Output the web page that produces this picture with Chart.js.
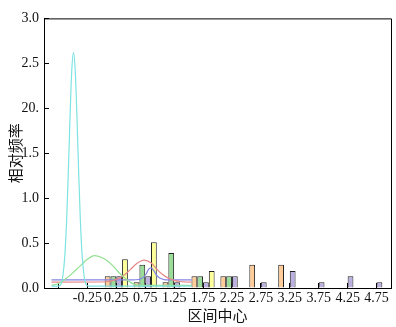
<!DOCTYPE html>
<html>
<head>
<meta charset="utf-8">
<script src="https://cdn.jsdelivr.net/npm/chart.js@4.4.1/dist/chart.umd.min.js"></script>
<style>
  html, body { margin: 0; padding: 0; background: #fff; }
  #wrap { width: 396px; height: 327px; }
</style>
</head>
<body>
<div id="wrap"><canvas id="chart"></canvas></div>
<script>
/* ---------------- datos ---------------- */
// centros de intervalo (ancho 0.5) y etiquetas del eje x
const binCenters = [-0.75, -0.25, 0.25, 0.75, 1.25, 1.75, 2.25, 2.75, 3.25, 3.75, 4.25, 4.75];
const xTickLabels = ["", "-0.25", "0.25", "0.75", "1.25", "1.75", "2.25", "2.75", "3.25", "3.75", "4.25", "4.75"];
const yTickValues = [0, 0.5, 1, 1.5, 2, 2.5, 3];
const yTickLabels = ["0.0", "0.5", "1.0", "1.5", "20.", "2.5", "3.0"];

// frecuencias relativas por serie (null = sin barra)
const orangeVals = [null, null, 0.13, 0.065, 0.065, 0.13, 0.13, 0.26, 0.26, null, null, null];
const greenVals  = [null, null, 0.13, 0.26, 0.39, 0.13, 0.13, null, null, null, null, null];
const purpleVals = [null, null, 0.13, 0.13, 0.065, 0.065, 0.13, 0.065, 0.19, 0.065, 0.13, 0.065];
const yellowVals = [null, null, 0.32, 0.51, null, 0.19, null, null, null, null, null, null];

// curvas
const cyanX = [-0.87, -0.75, -0.70, -0.67, -0.64, -0.61, -0.58, -0.55, -0.52, -0.49, -0.46, -0.43, -0.40, -0.37, -0.34, -0.31, -0.28, -0.25, -0.2, 1.55];
const cyanY = [0.02, 0.02, 0.05, 0.15, 0.36, 0.73, 1.28, 1.90, 2.42, 2.62, 2.42, 1.90, 1.28, 0.73, 0.36, 0.15, 0.05, 0.025, 0.02, 0.02];
const greenX = [-0.87, -0.75, -0.65, -0.55, -0.45, -0.35, -0.25, -0.13, 0.0, 0.1, 0.2, 0.3, 0.4, 0.5, 0.6, 0.75, 1.55];
const greenY = [0.03, 0.05, 0.09, 0.14, 0.2, 0.26, 0.32, 0.36, 0.34, 0.3, 0.24, 0.17, 0.11, 0.06, 0.035, 0.03, 0.03];
const redX = [-0.87, 0.0, 0.1, 0.2, 0.3, 0.4, 0.5, 0.6, 0.73, 0.85, 0.95, 1.05, 1.15, 1.25, 1.35, 1.45, 1.55];
const redY = [0.065, 0.067, 0.072, 0.085, 0.11, 0.15, 0.21, 0.27, 0.31, 0.28, 0.21, 0.15, 0.11, 0.085, 0.072, 0.067, 0.065];
const blueX = [-0.87, 0.55, 0.63, 0.7, 0.76, 0.81, 0.85, 0.9, 0.95, 1.0, 1.08, 1.15, 1.55];
const blueY = [0.09, 0.09, 0.095, 0.11, 0.15, 0.21, 0.225, 0.19, 0.14, 0.11, 0.093, 0.09, 0.09];

const pts = (xs, ys) => xs.map((x, i) => ({ x, y: ys[i] }));
const bars = (vals) => binCenters.map((x, i) => ({ x, y: vals[i] }));

/* ---------------- estilo ---------------- */
Chart.defaults.font.family = "'Liberation Serif', serif";
Chart.defaults.font.size = 14;
Chart.defaults.color = "#111";

const lineDs = (data, color) => ({
  type: "line", data, borderColor: color, borderWidth: 1.2, pointRadius: 0,
  cubicInterpolationMode: "monotone", fill: false, order: 0,
});
const barDs = (data, color) => ({
  type: "bar", data, backgroundColor: color, borderColor: "#222", borderWidth: 1,
  categoryPercentage: 0.8, barPercentage: 1.0, order: 1,
});

// marco superior y derecho
const frame = {
  id: "frame",
  afterDatasetsDraw(chart) {
    const { ctx, chartArea: a } = chart;
    ctx.save();
    ctx.strokeStyle = "#000"; ctx.lineWidth = 1;
    ctx.beginPath();
    ctx.moveTo(a.left, a.top + 0.5); ctx.lineTo(a.right + 0.5, a.top + 0.5); ctx.lineTo(a.right + 0.5, a.bottom);
    ctx.stroke();
    ctx.restore();
  },
};

new Chart(document.getElementById("chart"), {
  type: "bar",
  data: {
    datasets: [
      lineDs(pts(cyanX, cyanY), "#7fe3e3"),
      lineDs(pts(greenX, greenY), "#92e092"),
      lineDs(pts(redX, redY), "#e68888"),
      lineDs(pts(blueX, blueY), "#8585e6"),
      barDs(bars(orangeVals), "#ffcc99"),
      barDs(bars(greenVals), "#99dd99"),
      barDs(bars(purpleVals), "#bcb0e0"),
      barDs(bars(yellowVals), "#ffff99"),
    ],
  },
  options: {
    responsive: true, maintainAspectRatio: false, animation: false,
    layout: { padding: { top: 10, right: 5, left: 0, bottom: 0 } },
    plugins: { legend: { display: false }, tooltip: { enabled: false } },
    scales: {
      x: {
        type: "linear", min: -1, max: 5, offset: false,
        afterBuildTicks: (s) => { s.ticks = binCenters.map((v) => ({ value: v })); },
        afterFit: (s) => { s.height = 39; },
        ticks: { autoSkip: false, maxRotation: 0, padding: 7,
          callback: (v) => xTickLabels[binCenters.indexOf(v)] },
        grid: { drawOnChartArea: false, offset: false, tickLength: -5, color: "#000" },
        border: { color: "#000", width: 1 },
        title: { display: true, text: "区间中心", padding: { top: 0, bottom: 3 },
          font: { family: "'Noto Sans CJK SC', sans-serif", size: 15 } },
      },
      y: {
        min: 0, max: 3,
        afterBuildTicks: (s) => { s.ticks = yTickValues.map((v) => ({ value: v })); },
        afterFit: (s) => { s.width = 44; },
        ticks: { padding: 10, callback: (v) => yTickLabels[yTickValues.indexOf(v)] },
        grid: { drawOnChartArea: false, tickLength: -5, color: "#000" },
        border: { color: "#000", width: 1 },
        title: { display: true, text: "相对频率", padding: { top: 6, bottom: 0 },
          font: { family: "'Noto Sans CJK SC', sans-serif", size: 15 } },
      },
    },
  },
  plugins: [frame],
});
</script>
</body>
</html>
